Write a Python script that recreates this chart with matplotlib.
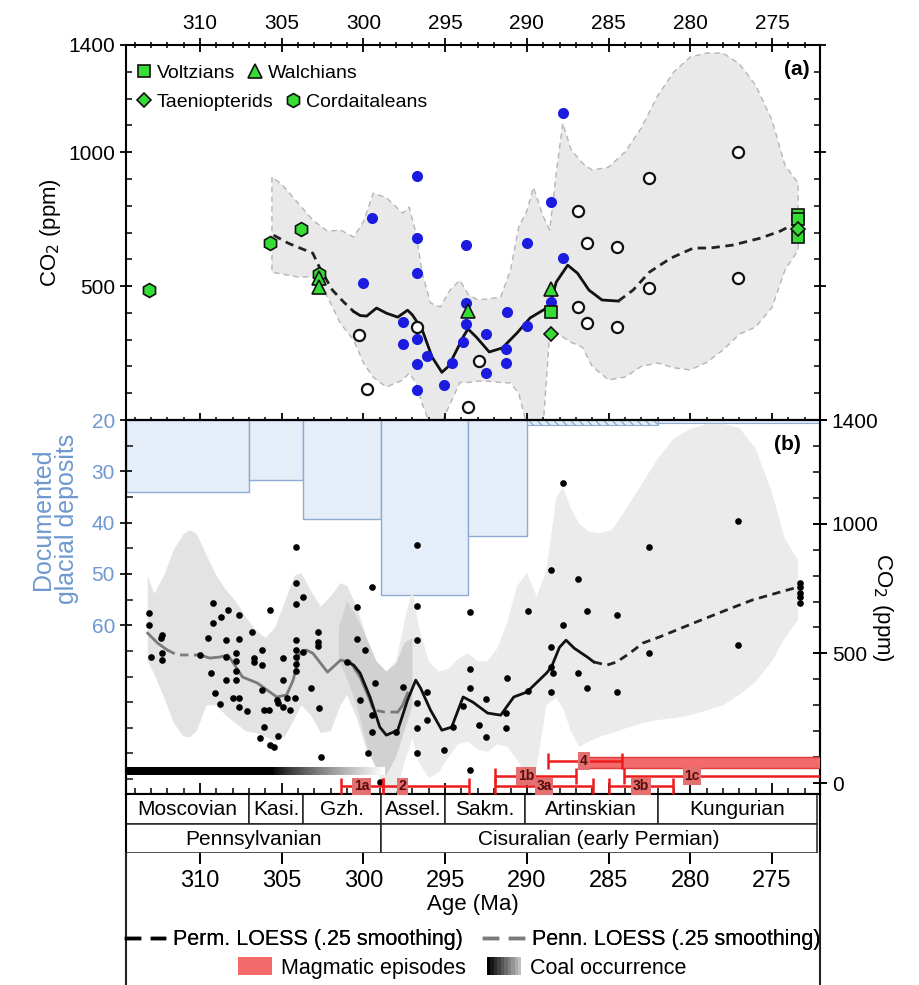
import numpy as np
import matplotlib
matplotlib.use("Agg")
import matplotlib.pyplot as plt
from matplotlib.lines import Line2D
from matplotlib.patches import Patch
from matplotlib.legend_handler import HandlerTuple
from matplotlib.ticker import MultipleLocator, FixedLocator

plt.rcParams["font.family"] = ["Liberation Sans", "DejaVu Sans"]

# ---------------- panel (a) data: age (Ma), CO2 (ppm)
blue_age = [296.7, 299.5, 296.7, 293.7, 290.0, 287.8, 300.0, 296.7, 293.7, 288.5,
            297.6, 296.7, 297.6, 293.7, 292.5, 291.2, 290.0, 293.9, 296.1, 296.7,
            294.6, 291.3, 291.3, 296.7, 295.1, 292.5, 287.8, 288.5]
blue_co2 = [910, 754, 680, 655, 660, 604, 511, 549, 437, 440,
            366, 302, 284, 360, 321, 403, 351, 291, 239, 209,
            213, 265, 213, 112, 131, 175, 1146, 813]
open_age = [300.3, 299.8, 296.7, 293.6, 292.9, 286.3, 284.5, 286.9, 286.3, 284.5,
            282.5, 277.1, 286.9, 282.5, 277.1]
open_co2 = [317, 116, 347, 49, 220, 660, 646, 422, 362, 347,
            493, 530, 780, 903, 1000]
volt_age = [288.5, 273.4, 273.4, 273.4]
volt_co2 = [403, 765, 750, 683]
walch_age = [302.7, 302.7, 293.6, 288.5]
walch_co2 = [530, 495, 407, 489]
taen_age = [288.5, 273.4]
taen_co2 = [321, 712]
cord_age = [313.1, 305.7, 303.8, 302.7]
cord_co2 = [485, 662, 713, 545]

loess_a_left_age = [305.5, 304.6, 303.8, 303.1, 302.7, 301.9, 301.2, 300.6]
loess_a_left_co2 = [690, 660, 640, 623, 571, 485, 440, 405]
loess_a_mid_age = [300.6, 300.2, 299.8, 299.2, 298.6, 297.9, 297.3, 297.0, 296.4, 295.8,
                   295.2, 294.8, 294.3, 293.9, 293.6, 293.1, 292.3, 291.5, 290.6, 289.8,
                   288.6, 288.2, 287.5, 286.9, 286.2, 285.4, 284.4]
loess_a_mid_co2 = [405, 390, 388, 418, 399, 384, 410, 392, 336, 235,
                   178, 200, 260, 310, 340, 310, 254, 269, 325, 381,
                   425, 515, 578, 548, 485, 448, 444]
loess_a_right_age = [284.4, 283.5, 282.5, 281.2, 279.8, 278.8, 277.4, 275.7, 274.5, 273.4]
loess_a_right_co2 = [444, 485, 552, 604, 642, 642, 653, 679, 705, 739]

env_a_age = [305.6, 305.0, 304.0, 303.1, 302.2, 301.4, 300.6, 300.0, 299.4, 298.6,
             297.6, 297.2, 296.8, 296.4, 295.9, 295.3, 294.7, 294.1, 293.6, 293.0,
             292.4, 291.6, 291.0, 290.5, 290.0, 289.6, 289.0, 288.6, 288.2, 287.8,
             287.3, 286.6, 286.0, 285.0, 284.0, 283.0, 282.0, 281.0, 280.0, 279.0,
             278.0, 277.0, 276.0, 275.0, 274.2, 273.4]
env_a_hi = [907, 880, 810, 746, 705, 709, 683, 740, 847, 830,
            772, 795, 700, 549, 437, 422, 485, 522, 470, 448,
            452, 459, 560, 720, 780, 869, 760, 709, 922, 1108,
            1010, 959, 933, 944, 1000, 1090, 1210, 1300, 1355, 1370,
            1370, 1330, 1250, 1120, 950, 885]
env_a_lo = [552, 545, 534, 534, 460, 360, 299, 213, 160, 123,
            149, 175, 140, 60, -20, -20, 60, 140, 140, 145,
            145, 140, 138, 100, -20, -20, -20, 325, 330, 310,
            290, 272, 200, 150, 160, 200, 213, 195, 187, 215,
            261, 320, 347, 420, 560, 634]

# ---------------- panel (b) data
b_age = [313.1, 313.1, 313.0, 312.3, 312.4, 312.3, 312.3, 310.0, 309.5, 309.3,
         309.2, 309.2, 309.1, 308.8, 308.7, 308.4, 308.4, 308.4, 308.3, 308.0,
         307.8, 307.8, 307.8, 307.8, 307.6, 307.6, 307.6, 307.6, 307.1, 306.8,
         306.7, 306.7, 306.2, 306.2, 306.2, 306.1, 306.1, 306.3, 305.7, 305.7,
         305.5, 305.2, 305.8, 305.3, 305.2, 304.9, 304.9, 304.7, 304.9, 304.5,
         304.2, 304.1, 304.1, 304.1, 304.1, 304.1, 304.1, 304.1, 304.1, 303.7,
         303.7, 303.2, 302.8, 302.8, 302.8, 302.7, 302.6, 301.0, 300.4, 300.4,
         300.2, 299.9, 299.5, 299.5, 299.5, 299.3, 299.7, 299.0, 298.0, 297.6,
         296.7, 296.7, 296.7, 296.7, 296.7, 296.7, 296.1, 296.1, 295.1, 294.5,
         293.9, 293.5, 293.5, 293.5, 293.5, 292.9, 292.5, 292.5, 291.3, 291.3,
         291.2, 289.9, 289.9, 288.5, 288.5, 288.5, 288.4, 288.5, 287.8, 287.8,
         286.9, 286.9, 286.3, 286.3, 284.5, 284.5, 282.5, 282.5, 277.1, 277.1,
         273.3, 273.3, 273.3, 273.3, 273.3]
b_co2 = [656, 610, 486, 571, 560, 501, 474, 494, 560, 424,
         694, 617, 347, 305, 640, 397, 551, 486, 667, 328,
         501, 470, 432, 397, 648, 555, 328, 293, 278, 582,
         482, 467, 513, 455, 359, 282, 216, 174, 667, 147,
         140, 181, 282, 320, 309, 482, 397, 328, 293, 282,
         328, 910, 771, 690, 551, 513, 486, 459, 432, 717,
         505, 366, 582, 545, 528, 289, 100, 467, 679, 555,
         320, 513, 756, 262, 197, 386, 116, 4, 197, 370,
         918, 683, 551, 309, 212, 116, 351, 243, 127, 216,
         297, 660, 440, 366, 50, 224, 324, 177, 270, 212,
         405, 663, 355, 821, 524, 447, 424, 351, 1157, 609,
         787, 424, 663, 366, 648, 351, 910, 501, 1010, 532,
         771, 756, 733, 717, 694]

penn_a_age = [313.2, 312.6, 312.0]
penn_a_co2 = [578, 540, 513]
penn_b_age = [312.0, 311.4, 310.0]
penn_b_co2 = [513, 494, 494]
penn_c_age = [310.0, 309.4, 308.8, 308.3, 308.0, 307.4, 306.5, 305.9, 305.3, 304.7,
              304.3, 303.9, 303.5, 303.1, 302.2, 301.4, 300.8, 300.2, 299.6]
penn_c_co2 = [494, 482, 486, 494, 467, 409, 386, 359, 332, 340,
              397, 501, 513, 501, 428, 474, 467, 409, 320]
penn_d_age = [299.6, 299.4, 298.7, 297.9]
penn_d_co2 = [320, 282, 274, 274]
penn_e_age = [297.9, 297.6, 297.3]
penn_e_co2 = [274, 300, 347]

perm_b_age = [301.0, 300.6, 300.2, 299.6, 299.0, 298.6, 297.9, 297.3, 296.8, 296.5,
              295.9, 295.2, 294.6, 293.9, 293.3, 292.4, 291.6, 290.8, 290.0, 288.8,
              288.5, 288.0, 287.6, 287.1, 286.3, 285.9]
perm_b_co2 = [467, 455, 424, 332, 216, 185, 204, 320, 397, 366,
              282, 204, 216, 332, 312, 270, 262, 332, 351, 424,
              447, 524, 551, 520, 486, 467]
perm_b_dash_age = [285.9, 285.1, 284.5, 283.7, 282.9, 281.9, 279.8, 277.8, 276.2, 274.7, 273.4]
perm_b_dash_co2 = [467, 455, 467, 501, 540, 563, 617, 667, 706, 733, 756]

envb_age = [301.5, 301.0, 300.4, 299.8, 299.2, 298.6, 298.0, 297.4, 297.0, 296.6,
            296.0, 295.4, 294.8, 294.2, 293.6, 293.0, 292.4, 291.8, 291.2, 290.6,
            290.0, 289.4, 288.8, 288.2, 287.8, 287.3, 286.8, 286.2, 285.5, 284.8,
            284.0, 283.0, 282.0, 281.0, 280.0, 279.0, 278.0, 277.0, 276.0, 275.0,
            274.2, 273.4]
envb_hi = [600, 700, 640, 560, 470, 430, 470, 650, 744, 600,
           470, 430, 440, 480, 500, 470, 470, 520, 620, 760,
           810, 720, 820, 1100, 1141, 1060, 1000, 970, 964, 975,
           1050, 1150, 1250, 1330, 1365, 1385, 1385, 1370, 1290, 1120,
           940, 860]
envb_lo = [480, 400, 300, 150, 50, -40, -40, 100, 170, 80,
           20, 40, 100, 150, 160, 130, 120, 150, 140, 90,
           30, 60, 300, 330, 290, 200, 139, 160, 180, 193,
           210, 230, 243, 250, 262, 280, 300, 340, 390, 470,
           560, 630]

penn_env_age = [313.2, 312.8, 312.2, 311.6, 311.0, 310.6, 310.2, 309.6, 309.0, 308.4,
                307.8, 307.2, 306.6, 306.0, 305.4, 304.8, 304.2, 303.8, 303.2, 302.6,
                302.0, 301.4, 301.0, 300.4, 299.8, 299.2, 298.6, 298.0, 297.5, 297.0]
penn_env_hi = [800, 730, 800, 900, 960, 976, 960, 880, 800, 744,
               700, 640, 590, 560, 600, 700, 800, 810, 740, 680,
               720, 771, 760, 680, 560, 470, 430, 460, 540, 560]
penn_env_lo = [470, 420, 330, 230, 180, 177, 200, 300, 300, 260,
               230, 200, 193, 180, 160, 180, 250, 300, 260, 193,
               200, 300, 340, 250, 127, 60, 30, 100, 200, 300]

# documented glacial deposits
glac_start = [314.53, 307.0, 303.7, 298.9, 293.6]
glac_end = [307.0, 303.7, 298.9, 293.6, 290.0]
glac_depth = [34.0, 31.6, 39.2, 54.1, 42.7]
glac_hatch_start, glac_hatch_end, glac_hatch_depth = 290.0, 282.0, 21.0
glac_thin_start, glac_thin_end, glac_thin_depth = 282.0, 272.06, 20.5

# magmatic episodes
mag_label = ["1a", "2", "1b", "3a", "4", "3b", "1c"]
mag_start = [301.37, 298.8, 291.95, 291.95, 288.7, 285.0, 284.06]
mag_end = [298.8, 293.54, 287.0, 285.95, 284.2, 281.05, 271.0]
mag_level = [-12, -12, 27, -12, 85, -12, 27]
mag_text_age = [300.1, 297.6, 290.05, 288.95, 286.5, 283.0, 279.9]
mag4_bar = (286.3, 271.0, 58, 100)
coal_range = (314.53, 298.7, 31, 58)

stage_names = ["Moscovian", "Kasi.", "Gzh.", "Assel.", "Sakm.", "Artinskian", "Kungurian"]
stage_start = [314.53, 307.0, 303.7, 298.9, 295.0, 290.1, 282.0]
stage_end = [307.0, 303.7, 298.9, 295.0, 290.1, 282.0, 272.25]
series_names = ["Pennsylvanian", "Cisuralian (early Permian)"]
series_start = [314.53, 298.9]
series_end = [298.9, 272.25]

XL = (314.53, 272.06)
GREEN = "#35dd35"
BLUE = "#1c1ce0"
GLAC = "#6e98cf"

W, H = 920, 985
fig = plt.figure(figsize=(W / 100, H / 100), dpi=100)


def box(l, t, r, b):
    return [l / W, 1 - b / H, (r - l) / W, (b - t) / H]


ax_a = fig.add_axes(box(126, 45, 820, 420))
ax_g = fig.add_axes(box(126, 420, 820, 794))
ax_s = fig.add_axes(box(126, 794, 820, 853))

# ================= panel (a)
ax_a.fill_between(env_a_age, env_a_lo, env_a_hi, facecolor="#e9e9e9",
                  edgecolor="#b5b5b5", linestyle=(0, (4, 3)), linewidth=1.0, zorder=1)
ax_a.plot(loess_a_left_age, loess_a_left_co2, color="#222222", lw=2, ls=(0, (3, 2)), zorder=3)
ax_a.plot(loess_a_mid_age, loess_a_mid_co2, color="#111111", lw=2, zorder=3)
ax_a.plot(loess_a_right_age, loess_a_right_co2, color="#222222", lw=2, ls=(0, (3, 2)), zorder=3)
ax_a.plot(blue_age, blue_co2, "o", color=BLUE, ms=8, mec="none", zorder=4)
ax_a.plot(open_age, open_co2, "o", mfc="white", mec="#111111", mew=1.6, ms=8, zorder=4)
mk = dict(mfc=GREEN, mec="#111111", mew=1.2, ls="none", zorder=5)
h_cord, = ax_a.plot(cord_age, cord_co2, "h", ms=10, **mk)
h_volt, = ax_a.plot(volt_age, volt_co2, "s", ms=8.5, **mk)
h_walch, = ax_a.plot(walch_age, walch_co2, "^", ms=9.5, **mk)
h_taen, = ax_a.plot(taen_age, taen_co2, "D", ms=7.5, **mk)

ax_a.set_xlim(*XL)
ax_a.set_ylim(0, 1400)
ax_a.set_yticks([500, 1000, 1400])
ax_a.yaxis.set_minor_locator(MultipleLocator(100))
ax_a.xaxis.set_major_locator(MultipleLocator(5))
ax_a.xaxis.set_minor_locator(MultipleLocator(1))
ax_a.tick_params(axis="x", which="both", top=True, bottom=True, labeltop=True,
                 labelbottom=False, direction="inout", labelsize=15)
ax_a.tick_params(axis="x", which="major", length=10, width=1.3)
ax_a.tick_params(axis="x", which="minor", length=5, width=1.1)
ax_a.tick_params(axis="y", which="both", left=True, right=True, labelsize=15)
ax_a.tick_params(axis="y", which="major", length=8, width=1.3, direction="inout")
ax_a.tick_params(axis="y", which="minor", length=4, width=1.1, direction="in")
ax_a.set_ylabel("CO$_2$ (ppm)", fontsize=16, labelpad=4)
for s in ax_a.spines.values():
    s.set_linewidth(1.5)
ax_a.text(0.985, 0.935, "(a)", transform=ax_a.transAxes, ha="right", va="center",
          fontsize=15, fontweight="bold")

leg1 = ax_a.legend([h_volt, h_walch], ["Voltzians", "Walchians"], loc="upper left",
                   bbox_to_anchor=(-0.01, 0.99), ncol=2, frameon=False, fontsize=14,
                   handlelength=1.0, handletextpad=0.15, columnspacing=0.5, borderpad=0.3)
ax_a.add_artist(leg1)
ax_a.legend([h_taen, h_cord], ["Taeniopterids", "Cordaitaleans"], loc="upper left",
            bbox_to_anchor=(-0.01, 0.912), ncol=2, frameon=False, fontsize=14,
            handlelength=1.0, handletextpad=0.15, columnspacing=0.5, borderpad=0.3)

# ================= panel (b): glacial deposits (left axis)
gl_w = np.array(glac_end) - np.array(glac_start)
ax_g.bar(glac_start, np.array(glac_depth) - 20, width=gl_w, bottom=20, align="edge",
         facecolor="#e4edf8", edgecolor="#8eabd1", linewidth=1.0, zorder=1)
ax_g.bar([glac_hatch_start], [glac_hatch_depth - 20], width=[glac_hatch_end - glac_hatch_start],
         bottom=20, align="edge", facecolor="#e4edf8", edgecolor="#8eabd1",
         hatch="\\\\\\\\", linewidth=0.8, zorder=1)
ax_g.bar([glac_thin_start], [glac_thin_depth - 20], width=[glac_thin_end - glac_thin_start],
         bottom=20, align="edge", facecolor="#e4edf8", edgecolor="#8eabd1",
         linewidth=0.8, zorder=1)
ax_g.set_xlim(*XL)
ax_g.set_ylim(92.9, 20)
ax_g.set_yticks([20, 30, 40, 50, 60])
ax_g.yaxis.set_minor_locator(FixedLocator([25, 35, 45, 55] + list(range(65, 93, 5))))
ax_g.tick_params(axis="y", which="both", colors="#222222", labelcolor=GLAC, labelsize=15)
ax_g.tick_params(axis="y", which="major", length=9, width=1.4, direction="inout")
ax_g.tick_params(axis="y", which="minor", length=5, width=1.2, direction="in")
ax_g.xaxis.set_major_locator(MultipleLocator(5))
ax_g.xaxis.set_minor_locator(MultipleLocator(1))
ax_g.tick_params(axis="x", which="both", top=False, bottom=True, labelbottom=False,
                 direction="in")
ax_g.tick_params(axis="x", which="major", length=8, width=1.3)
ax_g.tick_params(axis="x", which="minor", length=4, width=1.1)
ax_g.set_ylabel("Documented\nglacial deposits", color=GLAC, fontsize=18, linespacing=1.0)
ax_g.yaxis.set_label_coords(-0.068, 0.735)
for s in ax_g.spines.values():
    s.set_linewidth(1.5)

# ================= panel (b): CO2 (right axis)
ax_c = ax_g.twinx()
ax_c.fill_between(envb_age, envb_lo, envb_hi, facecolor="#ebebeb", edgecolor="none", zorder=1)
ax_c.fill_between(penn_env_age, penn_env_lo, penn_env_hi, facecolor="black", alpha=0.11,
                  edgecolor="none", zorder=1.5)

grad = np.concatenate([np.zeros(90), np.linspace(0, 1, 70) ** 0.8])[None, :]
ax_c.imshow(grad, extent=[coal_range[0], coal_range[1], coal_range[2], coal_range[3]],
            aspect="auto", cmap="gray", vmin=0, vmax=1, zorder=2, interpolation="bilinear")

ax_c.plot(penn_a_age, penn_a_co2, color="#7a7a7a", lw=2, zorder=3)
ax_c.plot(penn_b_age, penn_b_co2, color="#7a7a7a", lw=2, ls=(0, (3, 2)), zorder=3)
ax_c.plot(penn_c_age, penn_c_co2, color="#7a7a7a", lw=2, zorder=3)
ax_c.plot(penn_d_age, penn_d_co2, color="#7a7a7a", lw=2, ls=(0, (3, 2)), zorder=3)
ax_c.plot(penn_e_age, penn_e_co2, color="#7a7a7a", lw=2, zorder=3)
ax_c.plot(perm_b_age, perm_b_co2, color="#111111", lw=2, zorder=3)
ax_c.plot(perm_b_dash_age, perm_b_dash_co2, color="#222222", lw=2, ls=(0, (3, 2)), zorder=3)
ax_c.plot(b_age, b_co2, "o", color="black", ms=4.8, mec="none", zorder=4)

# magmatic episodes
ax_c.barh([(mag4_bar[2] + mag4_bar[3]) / 2], [mag4_bar[1] - mag4_bar[0]], left=mag4_bar[0],
          height=mag4_bar[3] - mag4_bar[2], facecolor="#f26a6a", edgecolor="#e23b3b",
          linewidth=1, zorder=5)
ms_ = np.array(mag_start)
me_ = np.array(mag_end)
ax_c.errorbar((ms_ + me_) / 2, mag_level, xerr=np.abs(me_ - ms_) / 2, fmt="none",
              ecolor="#ee1c1c", elinewidth=1.8, capsize=6, capthick=1.8, zorder=6)
for lab, xa, yl in zip(mag_label, mag_text_age, mag_level):
    ax_c.text(xa, yl, lab, ha="center", va="center", fontsize=10, fontweight="bold",
              color="#5a0a0a", zorder=7,
              bbox=dict(boxstyle="square,pad=0.12", fc="#e27070", ec="none"))

ax_c.set_xlim(*XL)
ax_c.set_ylim(-42, 1400)
ax_c.set_yticks([0, 500, 1000, 1400])
ax_c.yaxis.set_minor_locator(MultipleLocator(100))
ax_c.tick_params(axis="y", which="both", labelsize=15)
ax_c.tick_params(axis="y", which="major", length=10, width=1.4, direction="inout")
ax_c.tick_params(axis="y", which="minor", length=5, width=1.1, direction="in")
ax_c.set_ylabel("CO$_2$ (ppm)", fontsize=16, rotation=270, labelpad=12)
for s in ax_c.spines.values():
    s.set_linewidth(1.5)
ax_c.text(0.972, 0.935, "(b)", transform=ax_c.transAxes, ha="right", va="center",
          fontsize=15, fontweight="bold", zorder=8)

# ================= stages / series
st_s = np.array(stage_start)
st_e = np.array(stage_end)
ax_s.bar(st_s, np.ones(len(st_s)), width=st_e - st_s, bottom=1, align="edge",
         facecolor="white", edgecolor="#222222", linewidth=1.1)
for n, a, b in zip(stage_names, st_s, st_e):
    ax_s.text((a + b) / 2, 1.47, n, ha="center", va="center", fontsize=15)
se_s = np.array(series_start)
se_e = np.array(series_end)
ax_s.bar(se_s, np.ones(len(se_s)), width=se_e - se_s, bottom=0, align="edge",
         facecolor="white", edgecolor="#222222", linewidth=1.1)
for n, a, b in zip(series_names, se_s, se_e):
    ax_s.text((a + b) / 2, 0.47, n, ha="center", va="center", fontsize=15)
ax_s.set_xlim(*XL)
ax_s.set_ylim(0, 2)
ax_s.set_yticks([])
ax_s.xaxis.set_major_locator(MultipleLocator(5))
ax_s.tick_params(axis="x", which="major", direction="out", length=8, width=1.4,
                 labelsize=17, pad=4)
ax_s.set_xlabel("Age (Ma)", fontsize=16, labelpad=2)
for k in ("top", "bottom"):
    ax_s.spines[k].set_visible(False)
for k in ("left", "right"):
    ax_s.spines[k].set_linewidth(1.5)

# outer frame down to the bottom edge
for xp in (126, 820):
    fig.add_artist(Line2D([xp / W, xp / W], [0, 1 - 853 / H], transform=fig.transFigure,
                          color="#222222", lw=1.5))

# ================= bottom legends
solid_k = Line2D([], [], color="black", lw=2.5)
dash_k = Line2D([], [], color="black", lw=2.5)
solid_g = Line2D([], [], color="#7a7a7a", lw=2.5)
dash_g = Line2D([], [], color="#7a7a7a", lw=2.5)
leg_a = fig.legend([(solid_k, dash_k), (solid_g, dash_g)],
                   ["Perm. LOESS (.25 smoothing)", "Penn. LOESS (.25 smoothing)"],
                   handler_map={tuple: HandlerTuple(ndivide=None, pad=0.6)},
                   loc="center", bbox_to_anchor=(473 / W, 1 - 940 / H), ncol=2,
                   frameon=False, fontsize=15.5, handlelength=1.8, handletextpad=0.4,
                   columnspacing=1.0)
fig.add_artist(leg_a)
coal_shades = ["#000000", "#151515", "#2b2b2b", "#404040", "#565656", "#6b6b6b",
               "#818181", "#969696", "#acacac", "#c0c0c0"]
coal_patches = tuple(Patch(facecolor=c, edgecolor="none") for c in coal_shades)
fig.legend([Patch(facecolor="#f26a6a", edgecolor="none"), coal_patches],
           ["Magmatic episodes", "Coal occurrence"],
           handler_map={tuple: HandlerTuple(ndivide=None, pad=0)},
           loc="center", bbox_to_anchor=(462 / W, 1 - 968 / H), ncol=2,
           frameon=False, fontsize=15.5, handlelength=1.6, handleheight=0.9,
           handletextpad=0.4, columnspacing=1.0)

fig.savefig("out.png", dpi=100)
